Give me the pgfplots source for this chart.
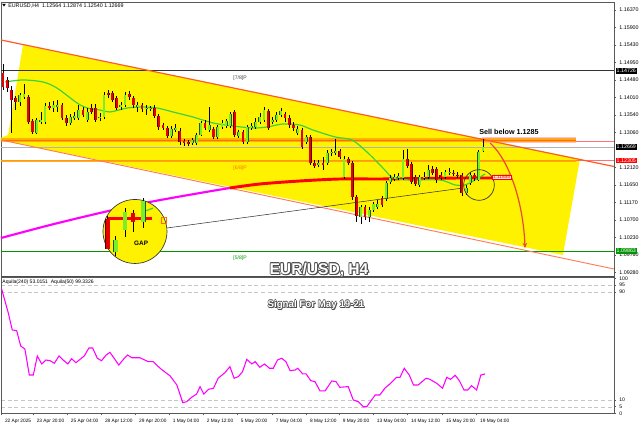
\documentclass[border=0pt]{standalone}
\usepackage{pgfplots}
\pgfplotsset{compat=1.18}
\usepackage{pgfplotstable}
\usepackage{fontspec}
\setmainfont{Liberation Sans}
\usetikzlibrary{arrows.meta}

\definecolor{cgreen}{RGB}{120,240,40}
\definecolor{cgreenedge}{RGB}{30,90,20}
\definecolor{cred}{RGB}{230,0,0}
\definecolor{crededge}{RGB}{90,0,0}
\definecolor{bandorange}{RGB}{255,160,0}
\definecolor{darkorange}{RGB}{255,110,0}
\definecolor{chanline}{RGB}{255,90,40}
\definecolor{maMag}{RGB}{255,0,255}
\definecolor{maGreen}{RGB}{60,210,60}
\definecolor{arrowred}{RGB}{235,70,50}
\definecolor{mmgreen}{RGB}{0,150,0}

\pgfplotsset{
  candle/.style 2 args={draw=none, mark=none, forget plot,
    error bars/.cd, y dir=plus, y explicit, error mark=-,
    error mark options={draw=none, fill=none, mark size=0pt},
    error bar style={line width=#1, draw=#2}},
}

\pgfplotstableread{
o c h l
1.1467 1.1429 1.1491 1.1421
1.1448 1.1426 1.1456 1.1416
1.1421 1.1394 1.1432 1.1305
1.1399 1.1389 1.1405 1.1367
1.1389 1.1408 1.1413 1.1378
1.1402 1.1410 1.1437 1.1397
1.1402 1.1335 1.1408 1.1329
1.1337 1.1308 1.1343 1.1302
1.1305 1.1340 1.1345 1.1302
1.1335 1.1340 1.1362 1.1329
1.1335 1.1378 1.1386 1.1329
1.1378 1.1372 1.1389 1.1367
1.1372 1.1381 1.1391 1.1362
1.1375 1.1381 1.1394 1.1362
1.1381 1.1345 1.1386 1.1340
1.1345 1.1332 1.1354 1.1324
1.1332 1.1348 1.1356 1.1327
1.1345 1.1351 1.1362 1.1340
1.1345 1.1367 1.1381 1.1340
1.1367 1.1354 1.1375 1.1348
1.1340 1.1362 1.1372 1.1335
1.1372 1.1362 1.1383 1.1356
1.1372 1.1340 1.1383 1.1335
1.1345 1.1348 1.1359 1.1337
1.1348 1.1408 1.1416 1.1343
1.1413 1.1408 1.1421 1.1399
1.1413 1.1394 1.1418 1.1389
1.1399 1.1372 1.1405 1.1367
1.1375 1.1381 1.1389 1.1367
1.1381 1.1408 1.1416 1.1375
1.1410 1.1402 1.1418 1.1394
1.1399 1.1381 1.1405 1.1372
1.1375 1.1381 1.1389 1.1362
1.1381 1.1370 1.1386 1.1362
1.1370 1.1372 1.1381 1.1354
1.1370 1.1372 1.1378 1.1364
1.1372 1.1351 1.1381 1.1345
1.1351 1.1321 1.1356 1.1313
1.1327 1.1318 1.1332 1.1313
1.1318 1.1297 1.1324 1.1291
1.1297 1.1316 1.1324 1.1291
1.1313 1.1318 1.1329 1.1308
1.1310 1.1281 1.1318 1.1273
1.1283 1.1278 1.1289 1.1270
1.1281 1.1275 1.1286 1.1270
1.1278 1.1286 1.1291 1.1273
1.1278 1.1300 1.1305 1.1273
1.1300 1.1332 1.1337 1.1297
1.1332 1.1318 1.1340 1.1313
1.1313 1.1327 1.1375 1.1308
1.1316 1.1294 1.1321 1.1289
1.1294 1.1321 1.1327 1.1289
1.1321 1.1332 1.1340 1.1316
1.1324 1.1337 1.1343 1.1318
1.1324 1.1356 1.1362 1.1318
1.1362 1.1300 1.1367 1.1294
1.1297 1.1308 1.1313 1.1291
1.1308 1.1281 1.1313 1.1275
1.1281 1.1321 1.1327 1.1275
1.1318 1.1324 1.1332 1.1313
1.1321 1.1335 1.1345 1.1316
1.1335 1.1348 1.1359 1.1329
1.1340 1.1367 1.1375 1.1335
1.1364 1.1318 1.1370 1.1313
1.1335 1.1340 1.1348 1.1329
1.1340 1.1354 1.1362 1.1335
1.1354 1.1364 1.1372 1.1348
1.1356 1.1345 1.1362 1.1335
1.1345 1.1327 1.1354 1.1318
1.1327 1.1318 1.1335 1.1310
1.1305 1.1316 1.1324 1.1300
1.1313 1.1267 1.1318 1.1262
1.1281 1.1294 1.1300 1.1275
1.1294 1.1224 1.1300 1.1219
1.1224 1.1216 1.1232 1.1210
1.1219 1.1224 1.1232 1.1213
1.1224 1.1219 1.1240 1.1205
1.1224 1.1251 1.1259 1.1219
1.1251 1.1254 1.1262 1.1243
1.1251 1.1256 1.1289 1.1246
1.1256 1.1240 1.1262 1.1235
1.1186 1.1235 1.1243 1.1181
1.1235 1.1224 1.1240 1.1219
1.1224 1.1132 1.1229 1.1124
1.1132 1.1081 1.1138 1.1065
1.1078 1.1105 1.1111 1.1059
1.1105 1.1078 1.1111 1.1070
1.1078 1.1097 1.1105 1.1065
1.1097 1.1113 1.1119 1.1092
1.1105 1.1113 1.1124 1.1100
1.1129 1.1111 1.1135 1.1105
1.1127 1.1170 1.1175 1.1121
1.1173 1.1183 1.1192 1.1167
1.1181 1.1186 1.1194 1.1175
1.1183 1.1189 1.1197 1.1178
1.1183 1.1235 1.1259 1.1178
1.1235 1.1216 1.1262 1.1210
1.1221 1.1173 1.1227 1.1167
1.1186 1.1167 1.1192 1.1162
1.1165 1.1186 1.1192 1.1159
1.1183 1.1186 1.1200 1.1178
1.1186 1.1205 1.1219 1.1181
1.1208 1.1197 1.1216 1.1192
1.1208 1.1178 1.1213 1.1170
1.1192 1.1183 1.1200 1.1178
1.1186 1.1200 1.1205 1.1181
1.1197 1.1200 1.1210 1.1192
1.1197 1.1194 1.1205 1.1189
1.1192 1.1189 1.1200 1.1183
1.1192 1.1143 1.1197 1.1135
1.1143 1.1156 1.1165 1.1138
1.1170 1.1192 1.1200 1.1165
1.1192 1.1183 1.1197 1.1175
1.1178 1.1254 1.1259 1.1175
1.12564 1.12669 1.12874 1.12540
}\candles

\pgfplotstableread{
x o c h l
24.9 1.1073 1.0992 1.1081 1.0992
26.8 1.0984 1.1016 1.1027 1.0973
29.0 1.1043 1.1092 1.1102 1.1024
30.9 1.1089 1.1065 1.1097 1.1038
33.3 1.1065 1.1121 1.1129 1.1048
}\inset

\begin{document}
\begin{tikzpicture}
\path[use as bounding box] (0,0) rectangle (480pt,320.25pt);

% ---------------- main price chart ----------------
\begin{axis}[
  at={(0.75pt,113.25pt)}, anchor=south west,
  scale only axis, width=459.75pt, height=205.5pt,
  xmin=-0.475, xmax=145.13, ymin=1.09188, ymax=1.16586,
  clip=false,
  axis line style={draw=gray!70!black, line width=0.5pt},
  xtick=\empty,
  ytick={1.16370,1.15900,1.15430,1.14950,1.14480,1.14010,1.13540,1.13060,1.12120,1.11650,1.11170,1.10700,1.10230,1.09760,1.09280},
  ytick pos=right, yticklabel pos=right,
  tick align=outside, major tick length=1.5pt,
  tick style={gray!70!black, line width=0.4pt},
  yticklabel style={font=\fontsize{4}{4}\selectfont, xshift=-1pt, /pgf/number format/fixed, /pgf/number format/fixed zerofill, /pgf/number format/precision=5},
  /pgf/number format/assume math mode=true,
]
% yellow channel area
\addplot[fill=yellow, draw=none, forget plot] coordinates {(4.75,1.15425) (137.05,1.12347) (133.0,1.09755) (-0.475,1.1286) (-0.475,1.1292) (1.2,1.12995)} -- cycle;

% horizontal levels
\addplot[gray!40!black, line width=0.6pt, forget plot] coordinates {(-0.475,1.14726) (145.13,1.14726)};
\addplot[gray!60, line width=0.4pt, forget plot] coordinates {(-0.475,1.12669) (145.13,1.12669)};
\addplot[red!55, line width=0.5pt, forget plot] coordinates {(-0.475,1.12305) (145.13,1.12305)};
\addplot[mmgreen, line width=0.5pt, forget plot] coordinates {(-0.475,1.09863) (145.13,1.09863)};
\addplot[red!55, line width=0.5pt, forget plot] coordinates {(136.1,1.1283) (145.13,1.1283)};
\addplot[bandorange, line width=1.6pt, opacity=0.85, forget plot] coordinates {(-0.475,1.12295) (136.1,1.12295)};
\addplot[fill=red!35, draw=none, opacity=0.7, forget plot] coordinates {(113.8,1.1277) (136.1,1.1277) (136.1,1.1293) (113.8,1.1293)} -- cycle;
\addplot[bandorange, line width=3pt, opacity=0.8, forget plot] coordinates {(-0.475,1.1285) (136.1,1.1285)};
\addplot[darkorange, line width=0.8pt, forget plot] coordinates {(-0.475,1.1285) (136.1,1.1285)};

% channel lines
\addplot[chanline, line width=0.9pt, forget plot] coordinates {(-0.475,1.1556) (145.13,1.12144)};
\addplot[chanline!80, line width=0.7pt, forget plot] coordinates {(-0.475,1.1286) (145.13,1.09377)};

% long moving average (magenta then red)
\addplot[maMag, line width=1.6pt, smooth, forget plot] coordinates {(-0.475,1.10214) (11.2,1.10565) (23.0,1.10889) (34.9,1.11186) (46.8,1.11429) (53.9,1.11564)};
\addplot[red, line width=2.2pt, smooth, forget plot] coordinates {(53.9,1.11564) (61.0,1.11672) (70.5,1.11753) (80.0,1.11807) (89.5,1.11807) (99.0,1.11820) (108.6,1.11834) (116.9,1.11834)};

% short moving average (green)
\addplot[maGreen, line width=0.9pt, smooth, forget plot] coordinates {(0.48,1.14426) (4.75,1.14480) (9.5,1.14426) (12.8,1.14264) (17.6,1.13859) (20.0,1.13724) (23.0,1.13670) (25.4,1.13616) (29.5,1.13724) (33.3,1.13751) (36.6,1.13724) (40.4,1.13616) (45.1,1.13481) (49.9,1.13319) (54.6,1.13238) (59.4,1.13184) (62.7,1.13211) (66.5,1.13292) (70.5,1.13265) (73.6,1.13130) (78.9,1.12941) (82.9,1.12860) (86.7,1.12509) (90.7,1.12050) (92.6,1.11834) (96.7,1.11780) (103.8,1.11780) (107.4,1.11645) (109.7,1.11645) (112.1,1.11780) (114.5,1.11942)};

% candles: wicks
\addplot[candle={0.45pt}{black}]
  table[x expr=\coordindex, y=l, y error plus expr={\thisrow{h}-\thisrow{l}}] {\candles};
% bearish bodies
\addplot[candle={2.1pt}{crededge}]
  table[x expr=\coordindex, y expr={\thisrow{o}>\thisrow{c} ? \thisrow{c} : nan}, y error plus expr={\thisrow{o}-\thisrow{c}}] {\candles};
\addplot[candle={1.55pt}{cred}]
  table[x expr=\coordindex, y expr={\thisrow{o}>\thisrow{c} ? \thisrow{c} : nan}, y error plus expr={\thisrow{o}-\thisrow{c}}] {\candles};
% bullish bodies
\addplot[candle={2.1pt}{cgreenedge}]
  table[x expr=\coordindex, y expr={\thisrow{c}>\thisrow{o} ? \thisrow{o} : nan}, y error plus expr={\thisrow{c}-\thisrow{o}}] {\candles};
\addplot[candle={1.55pt}{cgreen}]
  table[x expr=\coordindex, y expr={\thisrow{c}>\thisrow{o} ? \thisrow{o} : nan}, y error plus expr={\thisrow{c}-\thisrow{o}}] {\candles};

% connecting line
\addplot[black!80, line width=0.4pt, forget plot] coordinates {(38.95,1.10484) (109.3,1.11564)};

% GAP magnifier
\draw[fill=yellow, draw=black!80, line width=0.5pt] (axis cs:31.35,1.1039) circle[radius=24pt];
\addplot[red, line width=2.4pt, forget plot] coordinates {(24.9,1.1073) (35.4,1.1073)};
\addplot[maGreen, line width=0.9pt, forget plot] coordinates {(33.3,1.1092) (35.6,1.1102)};
\addplot[candle={0.6pt}{black}]
  table[x=x, y=l, y error plus expr={\thisrow{h}-\thisrow{l}}] {\inset};
\addplot[candle={3.6pt}{crededge}]
  table[x=x, y expr={\thisrow{o}>\thisrow{c} ? \thisrow{c} : nan}, y error plus expr={\thisrow{o}-\thisrow{c}}] {\inset};
\addplot[candle={2.9pt}{cred}]
  table[x=x, y expr={\thisrow{o}>\thisrow{c} ? \thisrow{c} : nan}, y error plus expr={\thisrow{o}-\thisrow{c}}] {\inset};
\addplot[candle={3.6pt}{cgreenedge}]
  table[x=x, y expr={\thisrow{c}>\thisrow{o} ? \thisrow{o} : nan}, y error plus expr={\thisrow{c}-\thisrow{o}}] {\inset};
\addplot[candle={2.9pt}{cgreen}]
  table[x=x, y expr={\thisrow{c}>\thisrow{o} ? \thisrow{o} : nan}, y error plus expr={\thisrow{c}-\thisrow{o}}] {\inset};
\draw[darkorange, line width=0.6pt] (axis cs:37.6,1.1060) rectangle (axis cs:38.9,1.1078);
\node[font=\bfseries\fontsize{4.8}{5}\selectfont] at (axis cs:32.8,1.1008) {GAP};

% small circle on the recent gap
\draw[black!80, line width=0.5pt] (axis cs:113.06,1.11645) circle[radius=11.5pt];

% projected move arrow
\draw[arrowred, line width=0.9pt, -{Stealth[length=4pt,width=3.5pt]}] (axis cs:115.7,1.1278) .. controls (axis cs:120.5,1.1228) and (axis cs:123.6,1.1112) .. (axis cs:124.0,1.0994);

% texts
\node[font=\bfseries\fontsize{5.4}{6}\selectfont] at (axis cs:120.2,1.13076) {Sell below 1.1285};
\node[font=\fontsize{3.8}{4}\selectfont, text=gray!50!black, anchor=north] at (axis cs:56.3,1.14726) {[7/8]P};
\node[font=\fontsize{3.8}{4}\selectfont, text=darkorange, anchor=north] at (axis cs:56.3,1.12280) {[6/8]P};
\node[font=\fontsize{3.8}{4}\selectfont, text=mmgreen, anchor=north] at (axis cs:56.3,1.09863) {[5/8]P};
\node[font=\fontsize{3.6}{4}\selectfont, text=red, fill=red!12, draw=red, line width=0.3pt, inner sep=0.5pt, anchor=west] at (axis cs:116.2,1.11855) {1.11855};

% right-hand price boxes
\node[font=\fontsize{4}{4}\selectfont, text=white, fill=black, inner sep=0.6pt, anchor=west, xshift=1.2pt] at (axis cs:145.13,1.14726) {1.14726};
\node[font=\fontsize{4}{4}\selectfont, text=white, fill=black, inner sep=0.6pt, anchor=west, xshift=1.2pt] at (axis cs:145.13,1.12669) {1.12669};
\node[font=\fontsize{4}{4}\selectfont, text=white, fill=red, inner sep=0.6pt, anchor=west, xshift=1.2pt] at (axis cs:145.13,1.12305) {1.12305};
\node[font=\fontsize{4}{4}\selectfont, text=white, fill=mmgreen, inner sep=0.6pt, anchor=west, xshift=1.2pt] at (axis cs:145.13,1.09863) {1.09863};
\end{axis}

% ---------------- indicator panel ----------------
\begin{axis}[
  at={(0.75pt,10.125pt)}, anchor=south west,
  scale only axis, width=459.75pt, height=102.375pt,
  xmin=-0.475, xmax=145.13, ymin=0, ymax=101.1,
  axis line style={draw=gray!70!black, line width=0.5pt},
  ytick={5,10,90,95}, extra y ticks={0,100}, extra y tick style={grid=none},
  ymajorgrids, grid style={densely dashed, gray!45, line width=0.3pt},
  ytick pos=right, yticklabel pos=right,
  xtick pos=bottom,
  tick align=outside, major tick length=1.5pt,
  tick style={gray!70!black, line width=0.4pt},
  yticklabel style={font=\fontsize{3.8}{4}\selectfont, xshift=-1pt},
  xtick={-0.45,7.1,15.2,23.3,31.4,39.4,47.5,55.6,63.9,72.0,79.8,87.9,96.0,104.3,112.4},
  xticklabels={22 Apr 2025,23 Apr 20:00,25 Apr 04:00,28 Apr 12:00,29 Apr 20:00,1 May 04:00,2 May 12:00,5 May 20:00,7 May 04:00,8 May 12:00,9 May 20:00,13 May 04:00,14 May 12:00,15 May 20:00,19 May 04:00},
  xticklabel style={font=\fontsize{3.6}{4}\selectfont, anchor=north west, xshift=-0.6pt, yshift=1pt},
  /pgf/number format/assume math mode=true,
]
\addplot[maMag, line width=0.8pt] coordinates {
(-0.3,92.0) (1.26,74.4) (2.2,61.9) (3.25,61.3) (4.2,50.0) (5.2,47.8) (6.25,28.5) (7.2,28.5) (8.15,42.6) (9.2,36.7) (10.2,39.6) (11.2,39.1) (12.2,37.2) (13.3,42.6) (14.3,39.6) (15.4,36.7) (16.3,40.6) (17.3,37.6) (18.3,40.1) (19.3,42.6) (20.4,48.5) (21.3,48.5) (22.4,40.9) (23.4,39.1) (24.5,43.3) (25.4,45.3) (26.4,40.9) (27.5,35.9) (28.6,40.1) (29.6,43.3) (30.6,41.3) (32.5,41.3) (34.5,38.4) (35.7,38.4) (37.3,33.5) (39.7,27.8) (41.3,21.1) (42.7,8.0) (43.6,8.7) (44.8,12.0) (46.0,14.4) (46.8,19.9) (47.7,14.4) (48.8,17.9) (50.0,18.7) (51.1,26.1) (52.7,30.2) (53.9,34.7) (54.9,26.1) (55.9,27.3) (56.9,31.0) (57.9,40.1) (59.1,36.7) (59.9,38.4) (61.0,34.2) (62.1,36.7) (63.3,33.5) (64.2,33.5) (65.2,39.6) (66.2,40.9) (67.2,38.4) (68.2,31.7) (69.4,32.2) (70.0,33.5) (71.2,29.3) (72.0,29.3) (73.1,24.3) (74.1,23.6) (75.3,16.7) (76.5,16.7) (78.1,24.1) (79.1,23.6) (80.0,19.4) (82.0,19.9) (83.2,10.0) (84.4,8.7) (85.6,5.0) (86.4,5.0) (88.4,13.7) (89.5,13.7) (90.7,18.7) (91.9,21.9) (93.5,26.8) (94.3,26.8) (95.3,33.5) (96.5,28.5) (97.5,21.1) (98.6,21.1) (100.5,26.1) (101.4,25.3) (103.0,22.4) (104.4,18.7) (105.4,26.8) (106.3,25.3) (107.4,28.3) (108.4,24.3) (109.5,17.4) (110.4,17.4) (111.3,20.6) (112.5,17.4) (113.5,28.5) (114.5,29.3)};
\end{axis}

% separator between panels
\draw[gray!60!black, line width=1.1pt] (0.75pt,113.0pt) -- (460.5pt,113.0pt);

% header texts
\fill[black] (1.6pt,317.4pt) -- (4.4pt,317.4pt) -- (3pt,315.3pt) -- cycle;
\node[anchor=west, font=\fontsize{4}{4}\selectfont, inner sep=0pt] at (6pt,316pt) {EURUSD,H4\ \ 1.12564 1.12874 1.12540 1.12669};
\node[anchor=west, font=\fontsize{3.8}{4}\selectfont, inner sep=0pt] at (1.6pt,108.6pt) {Aquila(240) 53.0151\ \ Aquila(50) 99.3326};

% big overlay titles with outline
\foreach \dx/\dy in {-0.5/0,0.5/0,0/0.5,0/-0.5,0.4/0.4,-0.4/0.4,-0.4/-0.4,0.4/-0.4,0.9/-0.9}
  \node[font=\bfseries\fontsize{11.7}{12}\selectfont, text=gray!60!black] at ([xshift=\dx pt,yshift=\dy pt]239.25pt,117.75pt) {EUR/USD, H4};
\node[font=\bfseries\fontsize{11.7}{12}\selectfont, text=white] at (239.25pt,117.75pt) {EUR/USD, H4};
\foreach \dx/\dy in {-0.4/0,0.4/0,0/0.4,0/-0.4,0.7/-0.7}
  \node[font=\bfseries\fontsize{7.3}{8}\selectfont, text=gray!60!black] at ([xshift=\dx pt,yshift=\dy pt]237pt,91.5pt) {Signal For May 19-21};
\node[font=\bfseries\fontsize{7.3}{8}\selectfont, text=white] at (237pt,91.5pt) {Signal For May 19-21};
\end{tikzpicture}
\end{document}
